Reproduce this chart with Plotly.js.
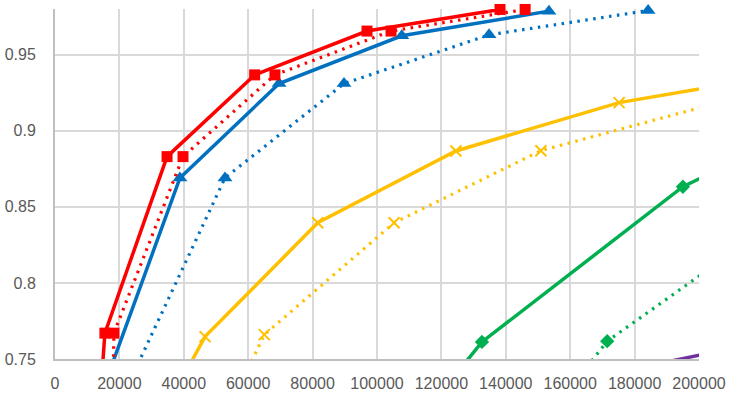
<!DOCTYPE html>
<html>
<head>
<meta charset="utf-8">
<script src="https://cdn.plot.ly/plotly-3.0.1.min.js"></script>
<style>
  html, body { margin: 0; padding: 0; background: #fff; }
  #chart { width: 734px; height: 398px; }
</style>
</head>
<body>
<div id="chart"></div>
<script>
// values; first/last points of some series sit outside the axes (clipped)
const redSolidX = [13900, 15500, 34800, 62000, 96900, 138200]
const redSolidY = [0.72, 0.767, 0.883, 0.9367, 0.9655, 0.9797]

const redDotX = [17900, 18300, 39750, 68300, 104350, 146000]
const redDotY = [0.72, 0.767, 0.883, 0.9367, 0.9655, 0.9797]

const blueSolidX = [16100, 38800, 69600, 107700, 153400]
const blueSolidY = [0.737, 0.869, 0.931, 0.9624, 0.9786]

const blueDotX = [23600, 52800, 89750, 134800, 184200]
const blueDotY = [0.737, 0.869, 0.931, 0.963, 0.979]

const yellowSolidX = [35100, 46600, 81600, 124500, 175200, 220000]
const yellowSolidY = [0.72, 0.7647, 0.8395, 0.8867, 0.9185, 0.9347]

const yellowDotX = [54700, 65000, 105300, 150900, 215000]
const yellowDotY = [0.72, 0.766, 0.8395, 0.8869, 0.9235]

const greenSolidX = [116900, 132600, 195000, 215000]
const greenSolidY = [0.72, 0.7612, 0.8632, 0.884]

const greenDotX = [155900, 171500, 215000]
const greenDotY = [0.72, 0.7617, 0.827]

const purpleX = [127000, 215000]
const purpleY = [0.72, 0.7592]

const xTicks = [0, 20000, 40000, 60000, 80000, 100000, 120000, 140000, 160000, 180000, 200000]
const yTicks = [0.75, 0.8, 0.85, 0.9, 0.95]

const xMax = 200000
const yMin = 0.75

// hide markers for points that fall outside the axes
function sizes(xs, ys, s) {
  return xs.map((x, i) => (x > xMax || ys[i] < yMin ? 0 : s))
}

function series(xs, ys, color, dash, symbol, size) {
  const isX = symbol === "x-thin-open"
  return {
    x: xs,
    y: ys,
    type: "scatter",
    mode: "lines+markers",
    cliponaxis: false,
    line: { color: color, width: dash === "solid" ? 3.5 : 3.2, dash: dash },
    marker: {
      symbol: symbol,
      size: sizes(xs, ys, size),
      color: color,
      opacity: 1,
      line: { color: color, width: isX ? 2 : 0 },
    },
    hoverinfo: "x+y",
  }
}

const dotted = "2.5px,5.5px"

const data = [
  series(purpleX, purpleY, "#7030A0", "solid", "circle", 0),
  series(greenDotX, greenDotY, "#00B050", dotted, "diamond", 11),
  series(greenSolidX, greenSolidY, "#00B050", "solid", "diamond", 11),
  series(yellowDotX, yellowDotY, "#FFC000", dotted, "x-thin-open", 11),
  series(yellowSolidX, yellowSolidY, "#FFC000", "solid", "x-thin-open", 11),
  series(blueDotX, blueDotY, "#0070C0", dotted, "triangle-up", 13),
  series(blueSolidX, blueSolidY, "#0070C0", "solid", "triangle-up", 13),
  series(redDotX, redDotY, "#FF0000", dotted, "square", 11),
  series(redSolidX, redSolidY, "#FF0000", "solid", "square", 11),
]

const tickFont = { family: "Liberation Sans, Arial, sans-serif", size: 16, color: "#595959" }

const layout = {
  width: 734,
  height: 398,
  margin: { l: 55, r: 35, t: 9, b: 39 },
  paper_bgcolor: "#ffffff",
  plot_bgcolor: "#ffffff",
  showlegend: false,
  xaxis: {
    range: [0, xMax],
    tickvals: xTicks,
    ticktext: xTicks.map(String),
    tickfont: tickFont,
    showgrid: true,
    gridcolor: "#D9D9D9",
    gridwidth: 2,
    zeroline: false,
    showline: true,
    linecolor: "#BFBFBF",
    linewidth: 2,
    ticks: "",
    ticklabelstandoff: 9,
  },
  yaxis: {
    range: [yMin, 0.98],
    tickvals: yTicks,
    ticktext: yTicks.map(String),
    tickfont: tickFont,
    showgrid: true,
    gridcolor: "#D9D9D9",
    gridwidth: 2,
    zeroline: false,
    showline: true,
    linecolor: "#BFBFBF",
    linewidth: 2,
    ticks: "",
    ticklabelstandoff: 14,
  },
}

Plotly.newPlot("chart", data, layout, { displayModeBar: false, staticPlot: true })
</script>
</body>
</html>
